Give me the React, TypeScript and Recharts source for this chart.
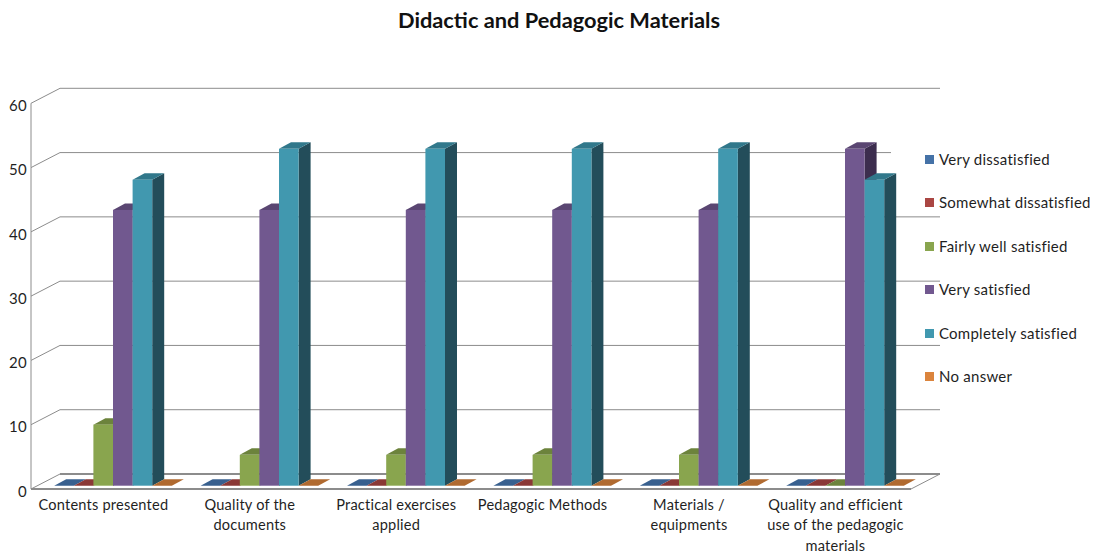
import React from 'react';
import { BarChart, Bar, XAxis, YAxis, CartesianGrid, Legend } from 'recharts';

const categories = [
  'Contents presented',
  'Quality of the documents',
  'Practical exercises applied',
  'Pedagogic Methods',
  'Materials / equipments',
  'Quality and efficient use of the pedagogic materials',
];

// wrapped axis labels, one entry per category
const tickLines: Record<string, string[]> = {
  'Contents presented': ['Contents presented'],
  'Quality of the documents': ['Quality of the', 'documents'],
  'Practical exercises applied': ['Practical exercises', 'applied'],
  'Pedagogic Methods': ['Pedagogic Methods'],
  'Materials / equipments': ['Materials /', 'equipments'],
  'Quality and efficient use of the pedagogic materials': ['Quality and efficient', 'use of the pedagogic', 'materials'],
};

const veryDissatisfied = [0, 0, 0, 0, 0, 0];
const somewhatDissatisfied = [0, 0, 0, 0, 0, 0];
const fairlyWellSatisfied = [9.5, 4.8, 4.8, 4.8, 4.8, 0];
const verySatisfied = [42.9, 42.9, 42.9, 42.9, 42.9, 52.4];
const completelySatisfied = [47.6, 52.4, 52.4, 52.4, 52.4, 47.6];
const noAnswer = [0, 0, 0, 0, 0, 0];

const yTicks = [0, 10, 20, 30, 40, 50, 60];

const series = [
  { key: 'veryDissatisfied', name: 'Very dissatisfied', values: veryDissatisfied, face: '#4572A7', top: '#38608F', side: '#2A4565' },
  { key: 'somewhatDissatisfied', name: 'Somewhat dissatisfied', values: somewhatDissatisfied, face: '#AA4643', top: '#8A3836', side: '#662926' },
  { key: 'fairlyWellSatisfied', name: 'Fairly well satisfied', values: fairlyWellSatisfied, face: '#89A54E', top: '#6C833C', side: '#526330' },
  { key: 'verySatisfied', name: 'Very satisfied', values: verySatisfied, face: '#71588F', top: '#5A4672', side: '#3C2D4E' },
  { key: 'completelySatisfied', name: 'Completely satisfied', values: completelySatisfied, face: '#4198AF', top: '#31788B', side: '#234D5A' },
  { key: 'noAnswer', name: 'No answer', values: noAnswer, face: '#DB843D', top: '#B06A30', side: '#8A5226' },
];

const chartData = categories.map((category, i) => {
  const row: Record<string, string | number> = { category };
  series.forEach((s) => {
    row[s.key] = s.values[i];
  });
  return row;
});

const FONT = 'Lato, Carlito, sans-serif';
const TEXT = '#1f1f1f';
const GRID = '#8c8c8c';

// depth of a bar and of the walls, in px
const BAR_DX = 12;
const BAR_DY = 6.5;
const FRONT_DX = -9.2;
const FRONT_DY = 3.3;
const BACK_DX = 19.8;
const BACK_DY = -11.7;
const BACK_RIGHT = 940;
const STEP = 64.3;

const make3dBar = (face: string, top: string, side: string) => (props: any) => {
  const { x, y, width, height } = props;
  const r = x + width;
  const b = y + height;
  return (
    <g>
      <polygon points={`${r},${y} ${r + BAR_DX},${y - BAR_DY} ${r + BAR_DX},${b - BAR_DY} ${r},${b}`} fill={side} />
      <polygon points={`${x},${y} ${r},${y} ${r + BAR_DX},${y - BAR_DY} ${x + BAR_DX},${y - BAR_DY}`} fill={top} />
      <rect x={x} y={y} width={width} height={height} fill={face} />
    </g>
  );
};

// one gridline: a slanted piece on the left wall and a long one on the back wall
const WallLine = (props: any) => {
  const { x1, y1, index } = props;
  const isFloor = y1 > 480;
  // the 50 line stops short of the others, just past the last tall bar
  const isShort = Math.abs(y1 - (485.7 - 5 * STEP)) < 2;
  return (
    <g key={index} stroke={GRID} fill="none">
      <line x1={x1 + FRONT_DX} y1={y1 + FRONT_DY} x2={x1 + BACK_DX} y2={y1 + BACK_DY} strokeWidth={1} />
      <line
        x1={x1 + BACK_DX}
        y1={y1 + BACK_DY}
        x2={isShort ? 891 : BACK_RIGHT}
        y2={y1 + BACK_DY}
        strokeWidth={isFloor ? 2 : 1}
      />
      {isFloor && (
        <>
          <line x1={x1 + FRONT_DX} y1={y1 + FRONT_DY} x2={BACK_RIGHT - 29} y2={y1 + FRONT_DY} strokeWidth={2} />
          <line x1={BACK_RIGHT - 29} y1={y1 + FRONT_DY} x2={BACK_RIGHT} y2={y1 + BACK_DY} strokeWidth={1} />
        </>
      )}
    </g>
  );
};

const YTick = (props: any) => {
  const { y, payload } = props;
  // the vertical front edge of the left wall runs from the 60 tick down to 0
  return (
    <g>
      {payload.value < 60 && (
        <line x1={31} x2={31} y1={y + FRONT_DY} y2={y + FRONT_DY - STEP} stroke={GRID} />
      )}
      <text x={27} y={y + 11} textAnchor="end" fontFamily={FONT} fontSize={15} letterSpacing={0.3} fill={TEXT}>
        {payload.value}
      </text>
    </g>
  );
};

const XTick = (props: any) => {
  const { x, payload } = props;
  const lines = tickLines[payload.value] || [payload.value];
  return (
    <text textAnchor="middle" fontFamily={FONT} fontSize={14.6} letterSpacing={0.2} fill={TEXT}>
      {lines.map((line, i) => (
        <tspan key={line} x={x - 10} y={509.5 + i * 20.8}>
          {line}
        </tspan>
      ))}
    </text>
  );
};

const LegendList = ({ payload }: any) => (
  <div style={{ fontFamily: FONT, fontSize: 15, letterSpacing: 0.25, color: TEXT }}>
    {(payload || []).map((entry: any) => (
      <div key={entry.value} style={{ height: 43.4, display: 'flex', alignItems: 'flex-start', whiteSpace: 'nowrap' }}>
        <span style={{ width: 9, height: 9, marginTop: 6, marginRight: 5, background: entry.color, flex: 'none' }} />
        <span style={{ lineHeight: '20px' }}>{entry.value}</span>
      </div>
    ))}
  </div>
);

export default function App() {
  return (
    <div style={{ position: 'absolute', left: 0, top: 0, width: 1096, height: 554, background: '#fff' }}>
      <div
        style={{
          position: 'absolute',
          top: 6,
          width: 1118,
          textAlign: 'center',
          fontFamily: FONT,
          fontWeight: 700,
          fontSize: 21.8,
          color: '#111',
        }}
      >
        Didactic and Pedagogic Materials
      </div>
      <BarChart
        width={1096}
        height={554}
        data={chartData}
        margin={{ top: 100, right: 6.4, bottom: 0, left: 0 }}
        barSize={19.6}
        barGap={0}
        style={{ position: 'absolute', left: 0, top: 0 }}
      >
        <CartesianGrid vertical={false} horizontal={WallLine} />
        <XAxis dataKey="category" axisLine={false} tickLine={false} interval={0} tick={XTick} height={68.3} />
        <YAxis domain={[0, 60]} ticks={yTicks} interval={0} axisLine={false} tickLine={false} tick={YTick} width={40.2} />
        <Legend
          layout="vertical"
          align="right"
          verticalAlign="top"
          width={171}
          content={LegendList}
          itemSorter={null}
          wrapperStyle={{ position: 'absolute', left: 925, top: 149 }}
        />
        {series.map((s) => (
          <Bar
            key={s.key}
            dataKey={s.key}
            name={s.name}
            fill={s.face}
            isAnimationActive={false}
            shape={make3dBar(s.face, s.top, s.side)}
          />
        ))}
      </BarChart>
    </div>
  );
}
